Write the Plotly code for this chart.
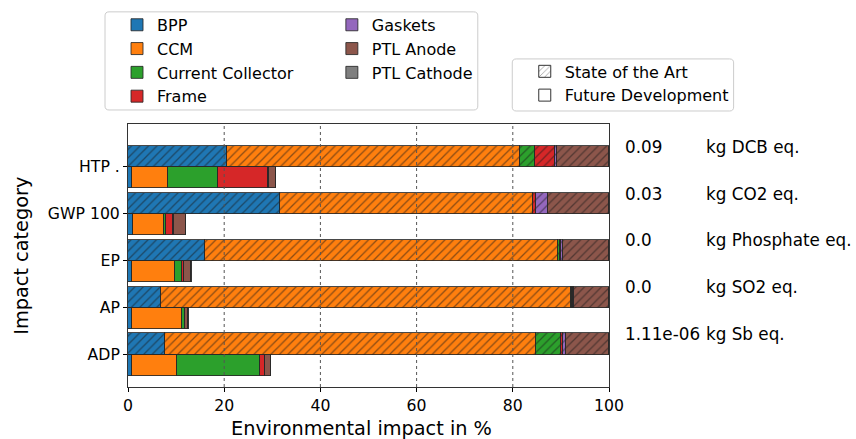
import plotly.graph_objects as go

# --- data -------------------------------------------------------------
categories = ["HTP .", "GWP 100", "EP", "AP", "ADP"]
components = ["BPP", "CCM", "Current Collector", "Frame", "Gaskets", "PTL Anode", "PTL Cathode"]
colors = ["#1f77b4", "#ff7f0e", "#2ca02c", "#d62728", "#9467bd", "#8c564b", "#7f7f7f"]

# share of each component in % (state of the art = 100 %)
soa_bpp = [20.5, 31.6, 16.1, 6.8, 7.6]
soa_ccm = [60.9, 52.6, 73.3, 85.4, 77.3]
soa_cc = [3.2, 0.1, 0.5, 0.2, 5.2]
soa_frame = [4.1, 0.6, 0.05, 0.2, 0.4]
soa_gaskets = [0.5, 2.4, 0.4, 0.05, 0.5]
soa_ptl_anode = [10.75, 12.6, 9.6, 7.3, 8.95]
soa_ptl_cathode = [0.05, 0.1, 0.05, 0.05, 0.05]

fut_bpp = [0.8, 1.0, 0.9, 0.8, 0.8]
fut_ccm = [7.6, 6.5, 8.9, 10.5, 9.4]
fut_cc = [10.4, 0.3, 1.5, 0.5, 17.2]
fut_frame = [10.4, 1.5, 0.3, 0.1, 1.1]
fut_gaskets = [0.05, 0.3, 0.1, 0.05, 0.05]
fut_ptl_anode = [1.5, 2.4, 1.5, 0.6, 1.2]
fut_ptl_cathode = [0.1, 0.1, 0.05, 0.05, 0.05]

totals = ["0.09", "0.03", "0.0", "0.0", "1.11e-06"]
units = ["kg DCB eq.", "kg CO2 eq.", "kg Phosphate eq.", "kg SO2 eq.", "kg Sb eq."]
x_ticks = [0, 20, 40, 60, 80, 100]

soa = [soa_bpp, soa_ccm, soa_cc, soa_frame, soa_gaskets, soa_ptl_anode, soa_ptl_cathode]
fut = [fut_bpp, fut_ccm, fut_cc, fut_frame, fut_gaskets, fut_ptl_anode, fut_ptl_cathode]

# --- geometry --------------------------------------------------------
W, H = 856, 439
L, R, T, B = 128, 609.3, 124, 386.7
FONT = "DejaVu Sans"
BAR_W = 0.45
EDGE = "rgba(40,40,40,0.85)"
X_MAX = 100  # x axis spans 0..X_MAX


def px_x(px):
    return (px - L) / (R - L)


def px_y(py):
    return (B - py) / (B - T)


idx = list(range(len(categories)))
y_soa = [i - BAR_W / 2 for i in idx]
y_fut = [i + BAR_W / 2 for i in idx]

fig = go.Figure()

for k, name in enumerate(components):
    legend_id = "legend" if k < 4 else "legend3"
    fig.add_trace(go.Bar(
        x=soa[k], y=y_soa, orientation="h", width=BAR_W, name=name,
        legendgroup=name, showlegend=False, legend=legend_id,
        marker=dict(color=colors[k], line=dict(color=EDGE, width=1),
                    pattern=dict(shape="/", fgcolor="#1a1a1a", fillmode="overlay",
                                 size=6, solidity=0.22)),
    ))
    fig.add_trace(go.Bar(
        x=fut[k], y=y_fut, orientation="h", width=BAR_W, name=name,
        legendgroup=name, showlegend=True, legend=legend_id,
        marker=dict(color=colors[k], line=dict(color=EDGE, width=1)),
    ))

# hatch key
fig.add_trace(go.Bar(
    x=[None], y=[None], orientation="h", name="State of the Art", legend="legend2",
    marker=dict(color="white", line=dict(color="#333", width=1),
                pattern=dict(shape="/", fgcolor="#333", fillmode="overlay", size=5, solidity=0.2)),
))
fig.add_trace(go.Bar(
    x=[None], y=[None], orientation="h", name="Future Development", legend="legend2",
    marker=dict(color="white", line=dict(color="#333", width=1)),
))

# dotted grid above the bars
shapes = []
for v in x_ticks[1:-1]:
    shapes.append(dict(type="line", xref="x", yref="paper", x0=v, x1=v, y0=0, y1=1,
                       line=dict(color="#555", width=1, dash="dot"), layer="above"))


def rounded_box(x0p, y0p, x1p, y1p, r=4):
    x0, x1 = px_x(x0p), px_x(x1p)
    y0, y1 = px_y(y1p), px_y(y0p)
    rx = r / (R - L)
    ry = r / (B - T)
    path = (f"M{x0 + rx},{y0} L{x1 - rx},{y0} Q{x1},{y0} {x1},{y0 + ry} "
            f"L{x1},{y1 - ry} Q{x1},{y1} {x1 - rx},{y1} L{x0 + rx},{y1} "
            f"Q{x0},{y1} {x0},{y1 - ry} L{x0},{y0 + ry} Q{x0},{y0} {x0 + rx},{y0} Z")
    return dict(type="path", xref="paper", yref="paper", path=path,
                fillcolor="rgba(255,255,255,0.8)", line=dict(color="#cccccc", width=1),
                layer="below")


shapes.append(rounded_box(105, 12, 478, 110))
shapes.append(rounded_box(512.5, 59, 734, 111))

# totals per impact category, right of the axes (x given in axis units)
annotations = []
for i in idx:
    for xv, txt in ((102.9, totals[i]), (119.7, units[i])):
        annotations.append(dict(x=xv / X_MAX, y=i - 0.43, xref="paper", yref="y", text=txt,
                                showarrow=False, xanchor="left", yanchor="middle",
                                font=dict(family=FONT, size=16.8, color="black")))

# axis titles
annotations.append(dict(x=px_x(361.5), y=px_y(428), xref="paper", yref="paper",
                        text="Environmental impact in %", showarrow=False,
                        xanchor="center", yanchor="middle",
                        font=dict(family=FONT, size=19.3, color="black")))
annotations.append(dict(x=px_x(22), y=px_y(255.5), xref="paper", yref="paper",
                        text="Impact category", showarrow=False, textangle=-90,
                        xanchor="center", yanchor="middle",
                        font=dict(family=FONT, size=19.3, color="black")))

legend_common = dict(font=dict(family=FONT, size=16, color="black"),
                     bgcolor="rgba(0,0,0,0)", borderwidth=0, orientation="v",
                     yanchor="top", xanchor="left", traceorder="normal",
                     itemclick=False, itemdoubleclick=False)

fig.update_layout(
    width=W, height=H,
    margin=dict(l=L, r=W - R, t=T, b=H - B, autoexpand=False),
    paper_bgcolor="white", plot_bgcolor="white",
    barmode="stack", bargap=0,
    font=dict(family=FONT, color="black"),
    shapes=shapes, annotations=annotations,
    legend=dict(x=px_x(117), y=px_y(8), **legend_common),
    legend3=dict(x=px_x(332), y=px_y(8), **legend_common),
    legend2=dict(x=px_x(525), y=px_y(54.5), **legend_common),
    xaxis=dict(range=[0, X_MAX], tickvals=x_ticks, ticks="outside", ticklen=4,
               tickcolor="black", showgrid=False, zeroline=False, automargin=False,
               showline=True, linecolor="#333", linewidth=1, mirror=True,
               tickfont=dict(family=FONT, size=15.7)),
    yaxis=dict(range=[4.69, -0.91], tickvals=idx, ticktext=categories,
               ticks="outside", ticklen=4, tickcolor="black", automargin=False,
               showgrid=False, zeroline=False,
               showline=True, linecolor="#333", linewidth=1, mirror=True,
               tickfont=dict(family=FONT, size=15.7)),
)

fig.write_html("out.html")
